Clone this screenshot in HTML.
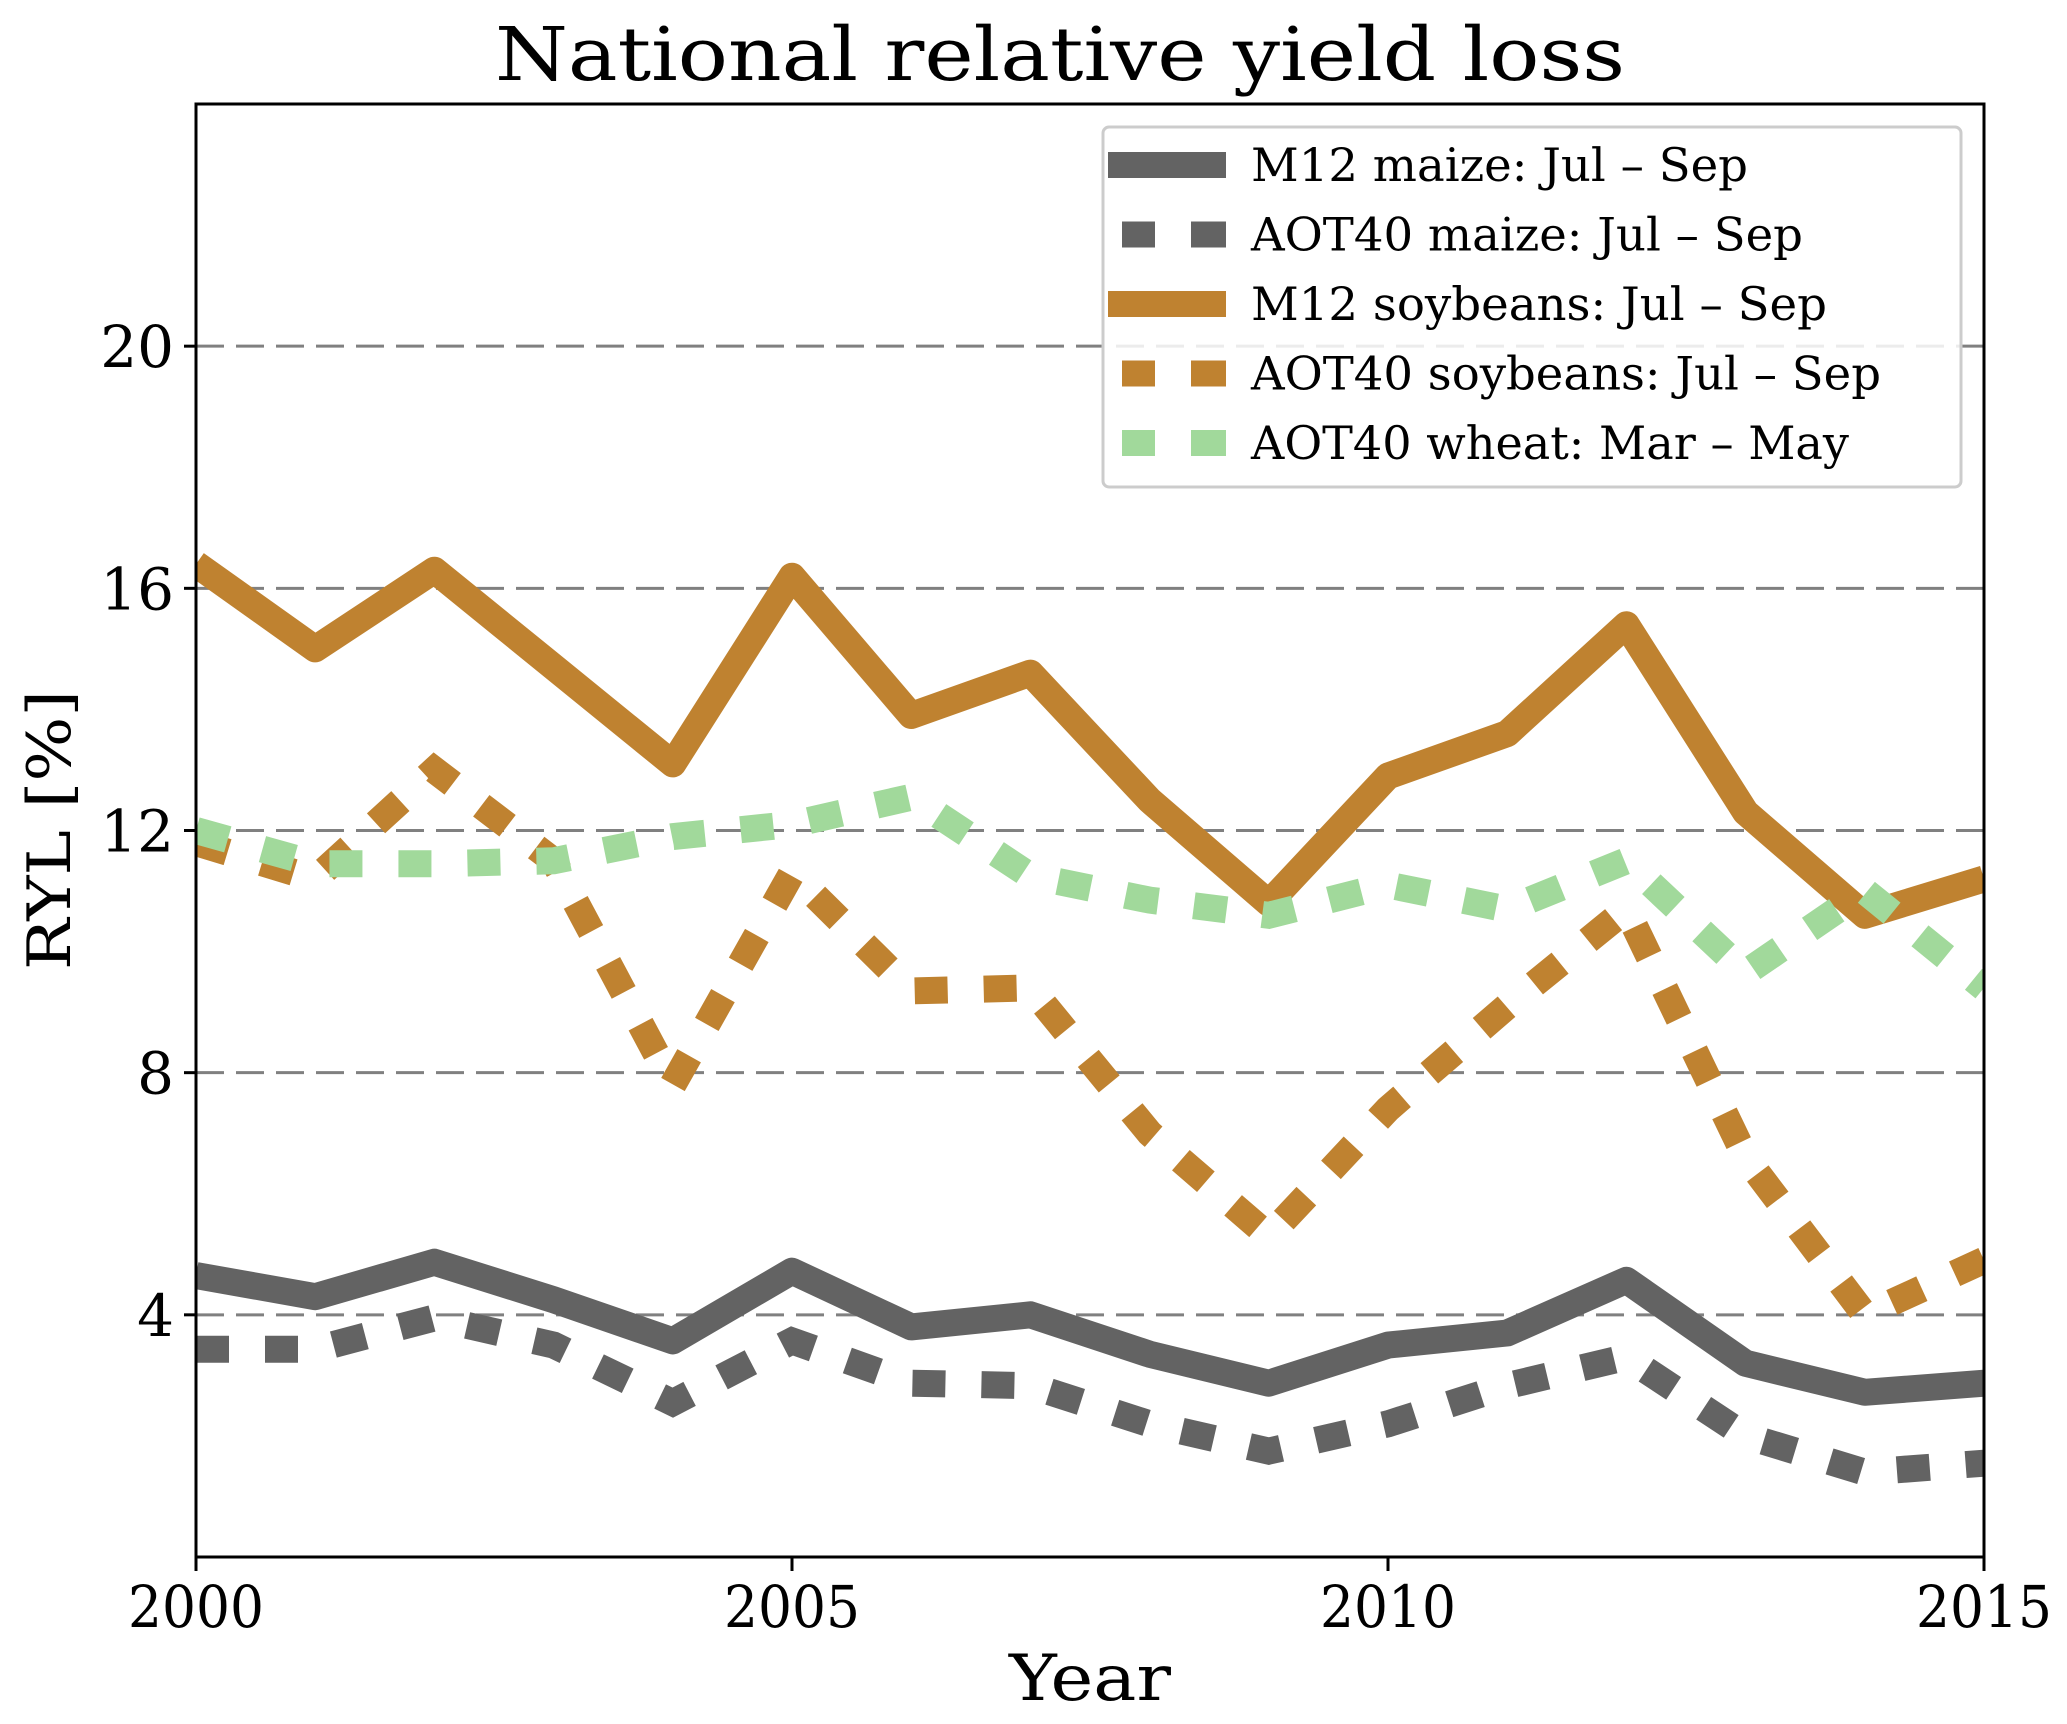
<!DOCTYPE html>
<html><head><meta charset="utf-8"><style>
html,body{margin:0;padding:0;background:#fff;}
svg{display:block;font-family:"DejaVu Serif","Liberation Serif",serif;}
</style></head><body>
<svg id="chart" width="2067" height="1724" viewBox="0 0 2067 1724" xmlns="http://www.w3.org/2000/svg">
<rect width="2067" height="1724" fill="#fff"/>
<text x="1060" y="80" font-size="74" text-anchor="middle" textLength="1130" lengthAdjust="spacingAndGlyphs">National relative yield loss</text>
<g id="grid"></g>
<g id="series"></g>
<rect x="196" y="104" width="1788" height="1453" fill="none" stroke="#000" stroke-width="3"/>
<g id="ticks"></g>
<text x="1090" y="1700" font-size="64" text-anchor="middle" textLength="162" lengthAdjust="spacingAndGlyphs">Year</text>
<text transform="translate(70,830) rotate(-90)" font-size="60" text-anchor="middle" textLength="280" lengthAdjust="spacingAndGlyphs">RYL [%]</text>
<g id="legend"></g>
</svg>
<script>
const years = [2000,2001,2002,2003,2004,2005,2006,2007,2008,2009,2010,2011,2012,2013,2014,2015];
const m12Maize = [4.65,4.3,4.87,4.25,3.57,4.72,3.8,4.0,3.35,2.87,3.5,3.7,4.57,3.2,2.72,2.87];
const aotMaize = [3.43,3.43,3.95,3.5,2.55,3.57,2.87,2.83,2.2,1.75,2.2,2.83,3.3,2.0,1.4,1.55];
const m12Soy = [16.4,15.0,16.3,14.7,13.1,16.2,13.9,14.6,12.5,10.8,12.9,13.6,15.4,12.3,10.6,11.2];
const aotSoy = [11.8,11.2,13.0,11.5,7.8,11.3,9.35,9.4,7.0,5.3,7.4,9.1,10.7,6.6,4.0,4.9];
const aotWheat = [12.0,11.45,11.45,11.5,11.9,12.1,12.55,11.25,10.85,10.6,11.1,10.7,11.5,9.65,11.0,9.4];
const yTicks = [4,8,12,16,20];
const xTicks = [2000,2005,2010,2015];
const legendLabels = ["M12 maize: Jul – Sep","AOT40 maize: Jul – Sep","M12 soybeans: Jul – Sep","AOT40 soybeans: Jul – Sep","AOT40 wheat: Mar – May"];
const legendWidths = [497,552,576,630,598];

const NS="http://www.w3.org/2000/svg";
const X0=196,X1=1984,Y0=1557,Y1=104;
const xs=v=>X0+(v-2000)/(2015-2000)*(X1-X0);
const ys=v=>Y0-(v/24)*(Y0-Y1);
function mk(tag,attrs,parent){const e=document.createElementNS(NS,tag);for(const k in attrs)e.setAttribute(k,attrs[k]);parent.appendChild(e);return e;}
const grid=document.getElementById('grid'),ticks=document.getElementById('ticks'),ser=document.getElementById('series'),leg=document.getElementById('legend');
yTicks.forEach(v=>{
  const g=mk('line',{x1:X0,x2:X1,y1:ys(v),y2:ys(v),stroke:'#808080','stroke-width':3,'stroke-dasharray':'28 12'},grid);
  
  
  const t=mk('line',{x1:X0-12,x2:X0,y1:ys(v),y2:ys(v),stroke:'#000','stroke-width':3},ticks);
  
  
  const l=mk('text',{x:X0-22,y:ys(v)+21,'font-size':58,'text-anchor':'end'},ticks);
  l.textContent=v;
  
  
});
xTicks.forEach(v=>{
  const t=mk('line',{x1:xs(v),x2:xs(v),y1:Y0,y2:Y0+14,stroke:'#000','stroke-width':3},ticks);
  
  
  const l=mk('text',{x:xs(v),y:1627,'font-size':58,'text-anchor':'middle',textLength:136,lengthAdjust:'spacingAndGlyphs'},ticks);
  l.textContent=v;
  
  
});
const seriesDefs=[
  {d:m12Maize,c:'#636363',dash:null,n:'m12-maize-line'},
  {d:aotMaize,c:'#636363',dash:'33 36',n:'aot40-maize-line'},
  {d:m12Soy,c:'#bf8230',dash:null,n:'m12-soybeans-line'},
  {d:aotSoy,c:'#bf8230',dash:'33 36',n:'aot40-soybeans-line'},
  {d:aotWheat,c:'#a1d99b',dash:'33 36',n:'aot40-wheat-line'}
];
const clip=mk('clipPath',{id:'pc'},mk('defs',{},ser));
mk('rect',{x:X0,y:Y1,width:X1-X0,height:Y0-Y1},clip);
seriesDefs.forEach((s,i)=>{
  const pts=years.map((y,j)=>xs(y).toFixed(1)+','+ys(s.d[j]).toFixed(1)).join(' ');
  const a={points:pts,fill:'none',stroke:s.c,'stroke-width':27,'stroke-linejoin':'round','clip-path':'url(#pc)'};
  if(s.dash){a['stroke-dasharray']=s.dash;a['stroke-linejoin']='miter';}
  const p=mk('polyline',a,ser);
  
  
  const ly=165+i*69.5;
  const h={x1:1108,x2:1226,y1:ly,y2:ly,stroke:s.c,'stroke-width':26};
  if(s.dash)h['stroke-dasharray']='0 14 33 36 33';
  const hl=mk('line',h,leg);
  
  
  const lt=mk('text',{x:1251,y:ly+16,'font-size':46,textLength:legendWidths[i],lengthAdjust:'spacingAndGlyphs'},leg);
  lt.textContent=legendLabels[i];
  
  
});
const box=mk('rect',{x:1103,y:127,width:858,height:360,rx:6,fill:'#fff','fill-opacity':0.85,stroke:'#ccc','stroke-width':3},leg);
leg.insertBefore(box,leg.firstChild);


</script>
</body></html>
